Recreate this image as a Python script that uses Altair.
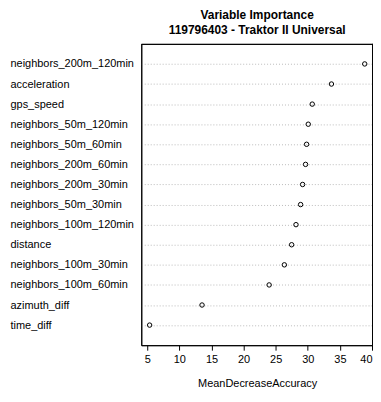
import altair as alt
import pandas as pd

variables = [
    "neighbors_200m_120min", "acceleration", "gps_speed", "neighbors_50m_120min",
    "neighbors_50m_60min", "neighbors_200m_60min", "neighbors_200m_30min",
    "neighbors_50m_30min", "neighbors_100m_120min", "distance",
    "neighbors_100m_30min", "neighbors_100m_60min", "azimuth_diff", "time_diff",
]
importance = [38.86, 33.68, 30.69, 30.07, 29.81, 29.65, 29.19, 28.88, 28.16, 27.48,
              26.35, 23.98, 13.53, 5.37]
x_ticks = [5, 10, 15, 20, 25, 30, 35, 40]

df = pd.DataFrame({"variable": variables, "value": importance})

font = "Liberation Sans"
W, H = 233, 303

points = alt.Chart(df).mark_point(
    shape="circle", filled=False, color="black", size=20, strokeWidth=1, opacity=1
).encode(
    x=alt.X("value:Q", scale=alt.Scale(domain=[4.07, 40.15], nice=False, zero=False),
            axis=alt.Axis(values=x_ticks, title="MeanDecreaseAccuracy", grid=False,
                          domain=True, domainColor="black", domainWidth=1,
                          tickSize=5, tickColor="black", labelPadding=3,
                          labelFlush=True, labelOverlap=False,
                          labelFontSize=11, labelColor="black", labelFont=font,
                          titleFont=font, titleFontSize=11, titleFontWeight="normal",
                          titleColor="black", titlePadding=14)),
    y=alt.Y("variable:N", sort=variables, scale=alt.Scale(type="point", padding=1),
            axis=alt.Axis(title=None, ticks=False, domain=True, domainColor="black",
                          domainWidth=1, labelAlign="left",
                          labelPadding=132, labelFontSize=11, labelColor="black",
                          labelFont=font, grid=True, gridColor="#bbbbbb",
                          gridDash=[1, 2], gridWidth=1)),
)

frame_df = pd.DataFrame({"a": [0]})
top_rule = alt.Chart(frame_df).mark_rule(color="black", strokeWidth=1).encode(
    x=alt.value(0), x2=alt.value(W), y=alt.value(0.5)
)
right_rule = alt.Chart(frame_df).mark_rule(color="black", strokeWidth=1).encode(
    x=alt.value(W - 0.5), y=alt.value(0), y2=alt.value(H)
)

chart = alt.layer(points, top_rule, right_rule).properties(
    width=W, height=H,
    background="white",
    title=alt.TitleParams(text=["Variable Importance", "119796403 - Traktor II Universal"],
                          font=font, fontSize=12, fontWeight="bold", color="black",
                          anchor="middle", frame="group", offset=6, lineHeight=15),
    autosize=alt.AutoSizeParams(type="none"),
    padding={"left": 134, "top": 35, "right": 0, "bottom": 44},
).configure_view(stroke="black", strokeWidth=1)

chart.save("out.html", embed_options={"renderer": "svg", "actions": False})
